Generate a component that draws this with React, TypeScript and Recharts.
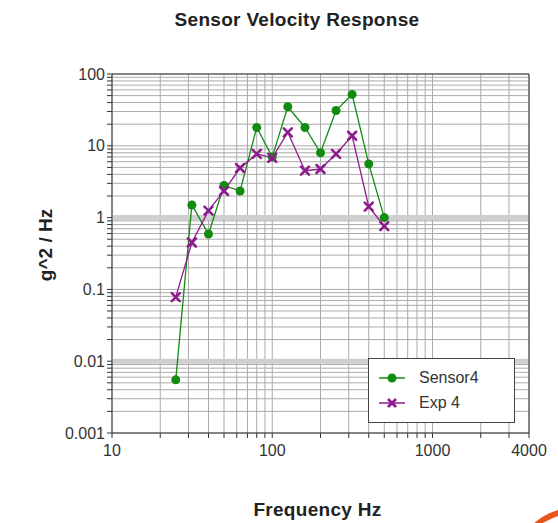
import { LineChart, Line, XAxis, YAxis, CartesianGrid, ReferenceLine } from 'recharts'

// third-octave band centres (Hz)
const FREQS = [25, 31.5, 40, 50, 63, 80, 100, 125, 160, 200, 250, 315, 400, 500]
const SENSOR4 = [0.0055, 1.5, 0.59, 2.8, 2.35, 18, 7.0, 35, 18, 8.0, 31, 52, 5.6, 1.0]
const EXP4 = [0.078, 0.45, 1.25, 2.35, 4.9, 7.7, 6.8, 15.4, 4.5, 4.75, 7.7, 13.8, 1.42, 0.76]

const X_MAJOR = [10, 100, 1000, 4000]
const X_TICKS = [
  10, 20, 30, 40, 50, 60, 70, 80, 90,
  100, 200, 300, 400, 500, 600, 700, 800, 900,
  1000, 2000, 3000, 4000,
]
const Y_MAJOR = [0.001, 0.01, 0.1, 1, 10, 100]
const Y_TICKS = [
  0.001, 0.002, 0.003, 0.004, 0.005, 0.006, 0.007, 0.008, 0.009,
  0.01, 0.02, 0.03, 0.04, 0.05, 0.06, 0.07, 0.08, 0.09,
  0.1, 0.2, 0.3, 0.4, 0.5, 0.6, 0.7, 0.8, 0.9,
  1, 2, 3, 4, 5, 6, 7, 8, 9,
  10, 20, 30, 40, 50, 60, 70, 80, 90,
  100,
]
const BANDS = [1, 0.01]

const data = FREQS.map((f, i) => ({ f, sensor: SENSOR4[i], exp: EXP4[i] }))

const GREEN = '#118c11'
const PURPLE = '#8e1a8e'
const GRID = '#ababab'
const AXIS = '#333'
const FONT = '"Liberation Sans", Arial, sans-serif'

function CrossDot({ cx, cy }: { cx?: number; cy?: number }) {
  if (cx == null || cy == null) return null
  const s = 4
  return (
    <g stroke={PURPLE} strokeWidth={2.6} strokeLinecap="round">
      <line x1={cx - s} y1={cy - s} x2={cx + s} y2={cy + s} />
      <line x1={cx - s} y1={cy + s} x2={cx + s} y2={cy - s} />
    </g>
  )
}

// key box sits inside the plot, lower right
function LegendBox() {
  const row = (label: string, color: string, cross: boolean) => (
    <div style={{ display: 'flex', alignItems: 'center', height: 25 }}>
      <svg width={40} height={14}>
        <line x1={6} y1={7} x2={32} y2={7} stroke={color} strokeWidth={1.5} />
        {cross ? (
          <g stroke={color} strokeWidth={2.6}>
            <line x1={15} y1={3} x2={23} y2={11} />
            <line x1={15} y1={11} x2={23} y2={3} />
          </g>
        ) : (
          <circle cx={19} cy={7} r={4.5} fill={color} />
        )}
      </svg>
      <span style={{ marginLeft: 6, fontSize: 16, color: '#333' }}>{label}</span>
    </div>
  )
  return (
    <div style={{ position: 'absolute', left: 368, top: 358, border: '1px solid #444', background: '#fff', padding: '6px 0 6px 4px', boxSizing: 'border-box', width: 147, height: 65 }}>
      {row('Sensor4', GREEN, false)}
      {row('Exp 4', PURPLE, true)}
    </div>
  )
}

export default function App() {
  return (
    <div style={{ position: 'absolute', left: 0, top: 0, width: 558, height: 523, overflow: 'hidden', background: '#fff', fontFamily: FONT }}>
      <div style={{ position: 'absolute', left: 0, width: 594, top: 9, textAlign: 'center', fontSize: 19, fontWeight: 'bold', color: '#222', letterSpacing: 0.3 }}>
        Sensor Velocity Response
      </div>
      <div style={{ position: 'absolute', left: 200, width: 235, top: 499, textAlign: 'center', fontSize: 19, fontWeight: 'bold', color: '#222', letterSpacing: 0.3 }}>
        Frequency Hz
      </div>
      <div style={{ position: 'absolute', left: 46, top: 245, transform: 'translate(-50%, -50%) rotate(-90deg)', whiteSpace: 'nowrap', fontSize: 19, fontWeight: 'bold', color: '#222' }}>
        g^2 / Hz
      </div>
      <LineChart width={558} height={523} data={data} margin={{ top: 74, right: 29, bottom: 60, left: 52 }} style={{ position: 'absolute', left: 0, top: 0 }}>
        <CartesianGrid stroke={GRID} strokeWidth={1} />
        {BANDS.map(v => (
          <ReferenceLine key={v} y={v} stroke="#cfcfcf" strokeWidth={5} />
        ))}
        <XAxis
          dataKey="f"
          type="number"
          scale="log"
          domain={[10, 4000]}
          allowDataOverflow
          ticks={X_TICKS}
          interval={0}
          height={30}
          tickSize={5}
          tickMargin={7}
          tickFormatter={(v: number) => (X_MAJOR.includes(v) ? String(v) : '')}
          tick={{ fill: '#333', fontSize: 16, fontFamily: FONT }}
          axisLine={{ stroke: AXIS }}
          tickLine={{ stroke: AXIS }}
        />
        <YAxis
          type="number"
          scale="log"
          domain={[0.001, 100]}
          allowDataOverflow
          ticks={Y_TICKS}
          interval={0}
          width={60}
          tickSize={5}
          tickFormatter={(v: number) => (Y_MAJOR.includes(v) ? String(v) : '')}
          tick={{ fill: '#333', fontSize: 16, fontFamily: FONT }}
          axisLine={{ stroke: AXIS }}
          tickLine={{ stroke: AXIS }}
        />
        <ReferenceLine y={100} stroke={AXIS} />
        <ReferenceLine x={4000} stroke={AXIS} />
        <Line
          dataKey="sensor"
          name="Sensor4"
          stroke={GREEN}
          strokeWidth={1.3}
          dot={{ r: 4.5, fill: GREEN, stroke: GREEN, strokeWidth: 0 }}
          isAnimationActive={false}
        />
        <Line
          dataKey="exp"
          name="Exp 4"
          stroke={PURPLE}
          strokeWidth={1.3}
          dot={<CrossDot />}
          isAnimationActive={false}
        />
      </LineChart>
      <LegendBox />
      <div style={{ position: 'absolute', left: 522, top: 508, width: 90, height: 40, borderRadius: '50%', borderTop: '6px solid #e8541a', transform: 'rotate(-18deg)' }} />
    </div>
  )
}
